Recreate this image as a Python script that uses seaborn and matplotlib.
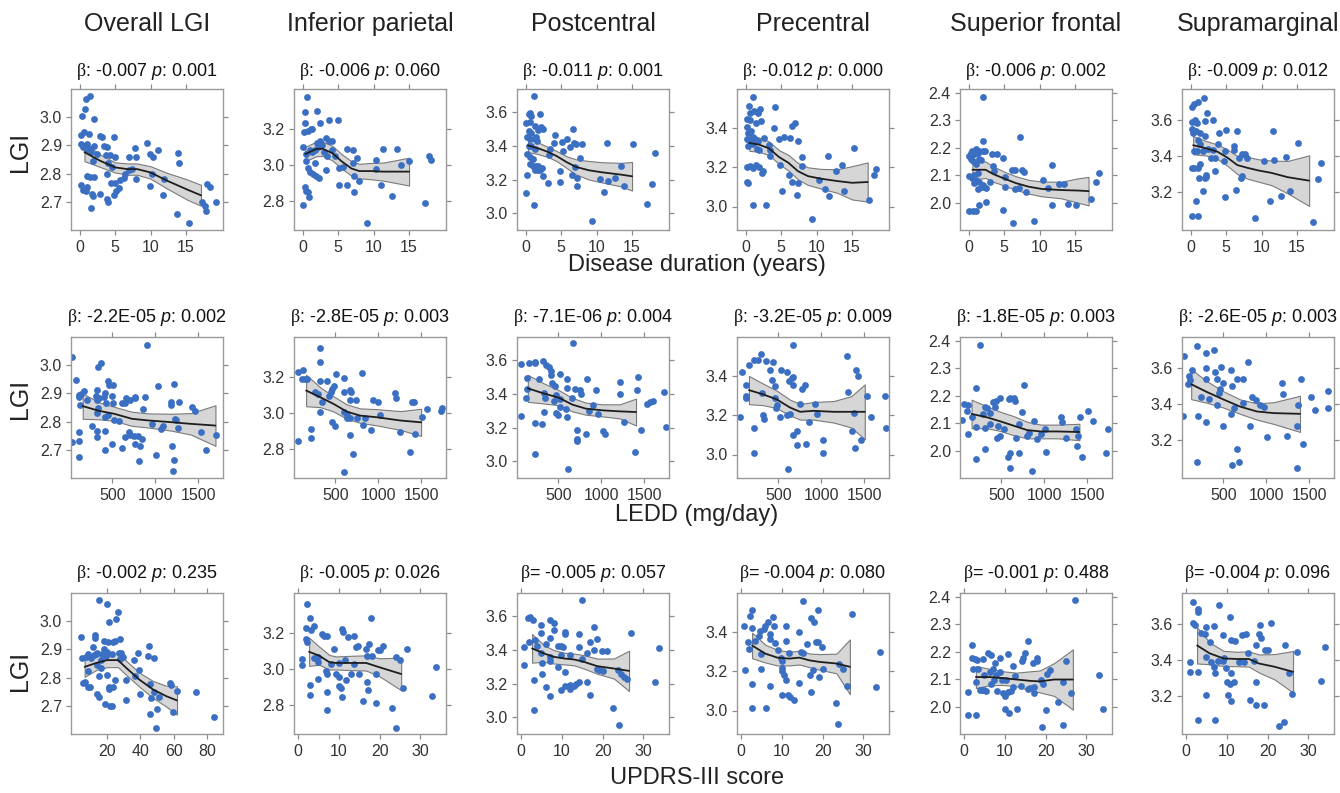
import matplotlib
matplotlib.use("Agg")
import matplotlib.pyplot as plt
import seaborn as sns
import numpy as np
import pandas as pd

# ---- text ----
region_names = ["Overall LGI", "Inferior parietal", "Postcentral", "Precentral",
                "Superior frontal", "Supramarginal"]
row_xlabels = ["Disease duration (years)", "LEDD (mg/day)", "UPDRS-III score"]

betas = [["-0.007", "-0.006", "-0.011", "-0.012", "-0.006", "-0.009"],
         ["-2.2E-05", "-2.8E-05", "-7.1E-06", "-3.2E-05", "-1.8E-05", "-2.6E-05"],
         ["-0.002", "-0.005", "-0.005", "-0.004", "-0.001", "-0.004"]]
pvals = [["0.001", "0.060", "0.001", "0.000", "0.002", "0.012"],
         ["0.002", "0.003", "0.004", "0.009", "0.003", "0.003"],
         ["0.235", "0.026", "0.057", "0.080", "0.488", "0.096"]]
beta_sep = [[":"] * 6, [":"] * 6, [":", ":", "=", "=", "=", "="]]

# ---- row 1: disease duration ----
r1c1_pts = [(0.86,3.063),(1.5,3.075),(0.8,3.03),(0.4,3.005),(2.05,2.995),(0.24,2.936),(0.57,2.948),
            (1.3,2.94),(0.24,2.906),(0.5,2.894),(0.86,2.896),(1.05,2.886),(1.5,2.888),(2.05,2.898),
            (2.86,2.934),(3.2,2.93),(3.43,2.898),(3.9,2.896),(4.86,2.93),(3.7,2.867),(4.3,2.867),
            (5.0,2.86),(4.05,2.837),(4.6,2.822),(3.9,2.8),(1.9,2.846),(1.43,2.788),(2.0,2.788),
            (1.1,2.792),(0.14,2.76),(0.5,2.742),(0.86,2.737),(1.1,2.752),(1.86,2.722),(1.76,2.729),
            (1.67,2.677),(2.86,2.728),(3.8,2.71),(4.05,2.70),(4.86,2.725),(5.1,2.737),(5.5,2.748),
            (4.5,2.767),(5.0,2.767),(5.7,2.777),(6.3,2.786),(6.4,2.8),(6.9,2.86),(7.9,2.86),
            (7.86,2.89),(7.95,2.782),(6.9,2.812),(7.4,2.816),(9.5,2.91),(9.86,2.87),(10.3,2.858),
            (9.9,2.755),(10.2,2.80),(11.0,2.882),(11.76,2.723),(11.9,2.78),(13.8,2.872),(14.0,2.837),
            (13.67,2.658),(15.4,2.625),(17.2,2.70),(17.95,2.764),(18.3,2.752),(17.6,2.684),
            (17.8,2.667),(19.2,2.698),(1.05,2.906),(1.67,2.876),(2.4,2.87)]
r1c1_fit = [(0.7,2.876,0.032),(2.86,2.846,0.022),(5,2.822,0.018),(6.7,2.816,0.02),(8.1,2.816,0.02),
            (10,2.804,0.022),(12.4,2.774,0.028),(15.2,2.743,0.036),(17.1,2.723,0.037)]

r1c2_pts = [(0.6,3.374),(2.1,3.30),(0.4,3.29),(2.4,3.23),(3.7,3.25),(5.0,3.25),(0.3,3.23),(1.2,3.20),
            (0.2,3.18),(0.8,3.19),(1.4,3.20),(2.1,3.12),(2.4,3.13),(2.7,3.11),(3.3,3.15),(3.7,3.13),
            (4.2,3.13),(0.1,3.10),(0.45,3.06),(1.0,3.08),(1.4,3.07),(1.8,3.08),(2.2,3.10),(3.0,3.07),
            (3.4,3.05),(4.2,3.08),(4.6,3.05),(6.2,3.09),(7.1,3.08),(7.6,3.04),(7.1,3.01),(0.5,3.02),
            (0.8,2.985),(1.7,3.01),(3.35,2.97),(5.2,2.985),(5.7,2.987),(1.0,2.96),(1.45,2.95),
            (1.9,2.94),(2.35,2.925),(5.1,2.89),(6.2,2.89),(7.3,2.94),(8.0,2.91),(7.3,2.85),(0.3,2.88),
            (0.55,2.855),(0.9,2.82),(0.77,2.85),(0.1,2.78),(9.1,2.68),(10.3,3.03),(10.4,2.98),
            (11.4,3.09),(11.0,2.89),(13.3,3.09),(12.6,2.83),(13.8,3.00),(15.0,3.02),(17.2,2.79),
            (17.8,3.05),(18.1,3.03)]
r1c2_fit = [(0.4,3.06,0.04),(1.9,3.088,0.04),(2.8,3.09,0.04),(4.2,3.065,0.04),(5.5,3.02,0.04),
            (6.9,2.98,0.04),(8.0,2.966,0.04),(9.6,2.966,0.045),(11.4,2.963,0.05),(15.0,2.963,0.077)]

r1c3_pts = [(1.2,3.696),(0.45,3.59),(0.7,3.596),(0.1,3.536),(0.6,3.544),(0.8,3.58),(1.3,3.52),(2.1,3.59),
            (2.2,3.516),(2.4,3.50),(1.7,3.494),(0.45,3.49),(0.8,3.48),(0.27,3.454),(0.6,3.444),
            (1.3,3.444),(1.5,3.454),(1.6,3.43),(0.45,3.40),(0.8,3.40),(1.3,3.384),(0.2,3.35),
            (0.6,3.334),(1.0,3.32),(0.7,3.296),(1.0,3.284),(1.5,3.28),(1.8,3.284),(2.25,3.27),
            (2.1,3.256),(1.7,3.256),(1.3,3.26),(0.2,3.228),(2.4,3.22),(3.1,3.18),(0.1,3.12),(1.2,3.046),
            (3.4,3.38),(3.3,3.344),(4.2,3.464),(4.05,3.42),(5.1,3.424),(5.3,3.37),(4.8,3.25),(4.9,3.184),
            (5.9,3.444),(6.2,3.396),(6.7,3.50),(6.8,3.42),(7.1,3.41),(7.0,3.276),(6.6,3.23),(7.3,3.21),
            (7.2,3.164),(7.7,3.33),(8.0,3.41),(9.3,2.956),(10.5,3.204),(11.1,3.126),(11.6,3.19),
            (11.5,3.42),(12.6,3.21),(13.4,3.28),(13.8,3.164),(15.1,3.41),(17.1,3.056),(17.8,3.176),
            (18.2,3.356)]
r1c3_fit = [(0.36,3.404,0.04),(1.7,3.388,0.035),(3.1,3.366,0.03),(4.4,3.34,0.03),(5.8,3.304,0.035),
            (7.1,3.276,0.045),(8.9,3.256,0.055),(10.7,3.244,0.06),(13.4,3.23,0.07),(15.0,3.22,0.085)]

r1c4_pts = [(1.1,3.56),(0.55,3.513),(0.64,3.48),(0.23,3.446),(0.64,3.44),(1.24,3.49),(1.7,3.476),
            (2.0,3.496),(1.47,3.425),(2.15,3.437),(0.23,3.405),(0.4,3.375),(0.78,3.388),(0.23,3.344),
            (0.55,3.34),(1.0,3.354),(1.4,3.344),(1.8,3.337),(0.32,3.307),(1.1,3.32),(1.55,3.294),
            (1.9,3.29),(2.6,3.35),(3.3,3.316),(3.5,3.287),(3.45,3.256),(4.0,3.40),(4.1,3.51),(4.7,3.344),
            (5.4,3.354),(4.9,3.214),(6.3,3.35),(6.6,3.41),(7.0,3.425),(7.4,3.332),(0.23,3.20),
            (0.64,3.206),(1.1,3.197),(1.47,3.214),(1.9,3.20),(2.4,3.18),(2.3,3.172),(0.23,3.125),
            (0.3,3.118),(1.1,3.01),(2.9,3.01),(5.1,3.08),(6.1,3.16),(6.6,3.125),(7.4,3.118),(7.3,3.057),
            (7.9,3.253),(8.0,3.206),(9.3,2.935),(10.4,3.135),(11.2,3.09),(11.8,3.054),(11.65,3.26),
            (12.7,3.18),(13.6,3.21),(13.9,3.08),(15.3,3.30),(17.4,3.033),(18.1,3.16),(18.4,3.19)]
r1c4_fit = [(0.55,3.324,0.04),(1.9,3.316,0.036),(3.3,3.297,0.035),(4.7,3.253,0.035),(6.05,3.223,0.04),
            (7.4,3.18,0.042),(8.8,3.155,0.045),(10.6,3.142,0.05),(12.9,3.13,0.06),(15.0,3.121,0.085),
            (17.2,3.125,0.1)]

r1c5_pts = [(2.05,2.385),(2.05,2.226),(0.1,2.17),(0.3,2.183),(0.55,2.19),(0.77,2.176),(1.1,2.195),
            (1.45,2.19),(1.3,2.18),(2.1,2.19),(2.35,2.189),(0.3,2.158),(0.64,2.152),(1.0,2.14),
            (1.45,2.158),(1.7,2.154),(0.1,2.096),(0.45,2.09),(0.77,2.1),(1.1,2.083),(1.3,2.11),
            (0.77,2.07),(1.45,2.074),(1.3,2.048),(1.9,2.058),(2.5,2.052),(2.1,2.065),(2.4,2.002),
            (1.45,1.99),(0.1,1.968),(0.64,1.968),(1.1,1.968),(3.3,2.178),(4.05,2.178),(4.9,2.164),
            (3.4,2.133),(3.6,2.114),(3.05,2.077),(4.9,1.974),(5.1,2.092),(5.1,2.058),(6.2,1.925),
            (6.1,2.12),(6.6,2.12),(6.5,2.05),(7.1,2.055),(7.2,2.238),(7.5,2.12),(7.8,2.112),(8.05,2.04),
            (9.2,1.934),(10.5,2.083),(11.2,2.052),(11.7,2.139),(11.8,1.99),(12.7,2.067),(13.5,2.067),
            (13.95,1.996),(15.2,1.993),(17.2,2.015),(17.95,2.077),(18.3,2.108)]
r1c5_fit = [(0.55,2.12,0.035),(2.4,2.12,0.03),(3.5,2.104,0.028),(5.1,2.087,0.025),(6.7,2.071,0.025),
            (8.5,2.058,0.025),(10.3,2.05,0.027),(13.0,2.046,0.03),(15.5,2.044,0.045),(16.9,2.042,0.052)]

r1c6_pts = [(1.85,3.72),(1.06,3.70),(0.46,3.687),(0.14,3.669),(2.3,3.635),(0.6,3.598),(0.14,3.59),
            (0.74,3.59),(0.92,3.58),(3.1,3.60),(2.0,3.594),(0.14,3.548),(0.37,3.529),(0.83,3.539),
            (1.3,3.529),(2.0,3.51),(4.0,3.529),(5.0,3.542),(6.6,3.539),(1.06,3.486),(1.3,3.464),
            (0.46,3.427),(0.92,3.427),(1.75,3.427),(2.45,3.436),(3.1,3.43),(3.8,3.464),(4.9,3.427),
            (6.1,3.455),(6.1,3.43),(6.8,3.39),(7.3,3.41),(7.7,3.41),(8.0,3.39),(7.3,3.287),(7.05,3.28),
            (2.9,3.39),(3.5,3.39),(0.14,3.334),(0.46,3.334),(1.06,3.334),(1.4,3.353),(2.2,3.297),
            (2.2,3.282),(2.0,3.28),(3.4,3.315),(1.2,3.28),(4.75,3.371),(6.4,3.213),(1.75,3.207),
            (0.74,3.148),(0.14,3.07),(1.06,3.07),(4.9,3.17),(9.1,3.055),(10.3,3.371),(11.65,3.535),
            (11.8,3.38),(11.2,3.148),(12.8,3.176),(13.5,3.394),(13.96,3.207),(15.2,3.473),(17.3,3.032),
            (18.0,3.274),(18.3,3.358)]
r1c6_fit = [(0.37,3.459,0.05),(2.2,3.442,0.04),(3.8,3.423,0.04),(5.2,3.39,0.045),(6.6,3.349,0.05),
            (8.0,3.334,0.06),(9.6,3.319,0.062),(11.4,3.306,0.068),(13.7,3.282,0.09),(16.7,3.263,0.14)]

# ---- row 2: LEDD ----
r2c1_pts = [(30,3.03),(73,2.947),(30,2.728),(111,2.895),(118,2.886),(137,2.898),(126,2.858),(176,2.907),
            (202,2.877),(118,2.762),(118,2.732),(118,2.675),(263,2.786),(309,2.89),(317,2.913),
            (340,2.995),(367,3.007),(317,2.877),(332,2.85),(317,2.83),(317,2.768),(317,2.746),(347,2.883),
            (405,2.889),(416,2.903),(424,2.865),(416,2.816),(416,2.768),(416,2.698),(454,2.943),
            (462,2.931),(508,2.931),(492,2.891),(508,2.867),(519,2.804),(500,2.72),(454,2.822),
            (576,2.802),(615,2.865),(645,2.865),(660,2.883),(710,2.877),(760,2.883),(767,2.889),
            (615,2.707),(645,2.744),(698,2.762),(710,2.753),(748,2.75),(767,2.72),(805,2.75),(824,2.713),
            (813,2.659),(851,2.738),(863,2.846),(882,2.889),(901,3.073),(966,2.792),(1004,2.683),
            (1034,2.925),(1065,2.774),(1092,2.786),(1179,2.871),(1187,2.859),(1195,2.713),(1225,2.935),
            (1233,2.81),(1244,2.804),(1225,2.665),(1206,2.625),(1263,2.777),(1282,2.871),(1424,2.852),
            (1462,2.838),(1538,2.762),(1588,2.698),(1710,2.752)]
r2c1_fit = [(156,2.855,0.045),(347,2.838,0.03),(519,2.828,0.025),(729,2.81,0.025),(920,2.804,0.025),
            (1187,2.798,0.03),(1416,2.792,0.038),(1702,2.786,0.072)]

r2c2_pts = [(64,2.847),(64,3.225),(123,3.24),(111,3.188),(150,3.185),(177,3.185),(216,2.911),(216,2.86),
            (325,3.358),(317,3.28),(317,3.179),(267,3.114),(305,3.105),(325,3.007),(345,3.059),
            (410,3.179),(422,3.092),(449,3.118),(461,3.133),(480,3.148),(461,2.952),(500,2.93),
            (512,3.216),(605,3.192),(605,3.118),(597,3.007),(636,2.989),(667,3.129),(683,3.118),
            (675,3.074),(675,2.97),(675,2.878),(605,2.672),(706,2.773),(636,2.97),(745,3.074),(753,2.97),
            (811,3.221),(823,2.934),(850,2.97),(916,2.908),(940,3.074),(994,3.059),(1017,2.989),
            (1200,3.111),(1212,3.081),(1251,2.897),(1375,2.786),(1395,3.059),(1414,3.059),(1434,2.884),
            (1512,2.976),(1570,3.022),(1726,3.013),(1745,3.026)]
r2c2_fit = [(161,3.124,0.087),(325,3.087,0.055),(480,3.05,0.042),(636,3.007,0.04),(792,2.985,0.04),
            (986,2.976,0.045),(1259,2.958,0.052),(1500,2.948,0.075)]

r2c3_pts = [(67,3.58),(67,3.269),(161,3.586),(134,3.495),(134,3.43),(122,3.378),(224,3.586),(232,3.592),
            (276,3.491),(319,3.596),(358,3.576),(390,3.56),(421,3.535),(421,3.511),(429,3.465),
            (224,3.228),(232,3.044),(311,3.222),(335,3.404),(343,3.374),(335,3.293),(461,3.45),
            (469,3.394),(476,3.289),(500,3.277),(516,3.37),(516,3.519),(449,3.358),(516,3.323),
            (587,3.313),(606,3.491),(606,3.438),(606,3.263),(618,2.954),(673,3.707),(665,3.378),
            (697,3.43),(752,3.424),(764,3.398),(713,3.131),(724,3.121),(724,3.188),(823,3.162),
            (831,3.491),(862,3.297),(902,3.333),(941,3.424),(961,3.283),(1020,3.182),(1039,3.162),
            (1217,3.471),(1224,3.398),(1264,3.236),(1394,3.055),(1413,3.424),(1433,3.501),(1461,3.188),
            (1539,3.343),(1563,3.35),(1598,3.358),(1736,3.41),(1760,3.202)]
r2c3_fit = [(146,3.434,0.08),(331,3.404,0.06),(508,3.378,0.045),(665,3.337,0.04),(823,3.313,0.036),
            (1020,3.303,0.036),(1217,3.297,0.042),(1406,3.293,0.08)]

r2c4_pts = [(57,3.189),(76,3.42),(120,3.353),(120,3.299),(127,3.29),(159,3.459),(214,3.481),(265,3.484),
            (304,3.515),(214,3.133),(214,3.008),(316,3.312),(324,3.203),(331,3.18),(355,3.476),
            (410,3.43),(422,3.38),(441,3.471),(461,3.349),(461,3.289),(473,3.24),(480,3.251),(527,3.43),
            (520,3.189),(606,3.201),(606,3.42),(629,3.375),(657,3.392),(676,3.397),(669,3.559),
            (676,3.353),(637,3.206),(676,3.098),(716,3.121),(716,3.049),(755,3.256),(775,3.332),
            (814,3.353),(618,2.924),(853,3.164),(825,3.054),(931,3.256),(951,3.206),(1022,3.076),
            (1022,3.008),(1296,3.505),(1312,3.319),(1363,3.121),(1382,3.214),(1390,3.032),(1402,3.43),
            (1429,3.40),(1461,3.076),(1531,3.299),(1586,3.189),(1743,3.299),(1755,3.133)]
r2c4_fit = [(159,3.329,0.072),(324,3.307,0.055),(480,3.282,0.045),(637,3.24,0.04),(755,3.218,0.04),
            (912,3.223,0.045),(1147,3.218,0.055),(1350,3.218,0.08),(1508,3.218,0.14)]

r2c5_pts = [(49,2.112),(65,2.171),(116,2.165),(96,2.146),(116,2.062),(155,2.124),(206,2.227),(206,2.087),
            (206,1.969),(253,2.384),(292,2.134),(312,2.161),(312,2.084),(312,2.006),(339,2.156),
            (371,2.136),(371,2.097),(410,2.177),(433,2.161),(441,2.183),(449,2.047),(457,2.091),
            (488,2.193),(480,2.053),(527,2.078),(586,2.19),(598,2.193),(575,1.975),(598,1.992),
            (606,1.936),(653,2.193),(665,2.18),(676,2.047),(704,1.992),(704,2.099),(743,2.14),(763,2.239),
            (802,2.053),(822,2.066),(861,1.926),(880,2.109),(920,2.041),(959,2.062),(1008,2.078),
            (1018,1.995),(1194,2.122),(1202,2.103),(1253,2.047),(1370,2.078),(1382,2.016),(1390,2.053),
            (1422,2.122),(1437,1.975),(1516,2.144),(1567,2.107),(1723,1.992),(1743,2.078)]
r2c5_fit = [(155,2.134,0.052),(331,2.122,0.04),(488,2.107,0.035),(645,2.091,0.035),(802,2.075,0.03),
            (959,2.07,0.025),(1155,2.07,0.025),(1410,2.068,0.03)]

r2c6_pts = [(29,3.335),(49,3.667),(100,3.553),(108,3.531),(88,3.509),(139,3.589),(194,3.722),(194,3.08),
            (206,3.335),(245,3.436),(296,3.68),(296,3.60),(296,3.54),(296,3.298),(335,3.425),(390,3.698),
            (402,3.576),(422,3.395),(429,3.535),(461,3.48),(453,3.462),(469,3.604),(500,3.516),
            (500,3.28),(586,3.585),(598,3.498),(586,3.345),(598,3.062),(625,3.376),(657,3.54),
            (665,3.153),(688,3.08),(727,3.54),(727,3.404),(794,3.631),(814,3.28),(833,3.44),(884,3.422),
            (931,3.395),(978,3.385),(1010,3.218),(1186,3.516),(1198,3.455),(1237,3.222),(1363,3.28),
            (1371,3.395),(1363,3.044),(1410,3.54),(1433,3.176),(1520,3.436),(1567,3.364),(1716,3.473),
            (1724,3.376)]
r2c6_fit = [(127,3.509,0.083),(304,3.467,0.06),(500,3.425,0.045),(696,3.385,0.04),(892,3.358,0.045),
            (1088,3.349,0.06),(1394,3.345,0.1)]

# ---- row 3: UPDRS-III ----
r3c1_pts = [(4.2,2.943),(5.2,2.871),(5.6,2.78),(7,2.786),(7.2,2.874),(8.4,2.883),(8.4,2.822),(8.6,2.768),
            (10,2.768),(11.6,2.907),(12.6,2.94),(12.6,2.95),(13.2,2.883),(14,2.889),(14,2.846),
            (12,2.879),(10.6,2.871),(14,2.741),(15.2,2.732),(15.2,3.076),(15.2,2.804),(16.6,2.862),
            (16.6,2.834),(17.2,2.883),(18,2.901),(18,2.931),(18.6,2.707),(19.2,2.877),(20,2.891),
            (20,3.06),(20,2.81),(21.2,2.998),(20.6,2.925),(21,2.768),(21.6,2.698),(23,2.698),(23.2,2.883),
            (23.6,2.927),(23.6,2.768),(21.2,2.758),(24.6,2.931),(24.6,2.79),(25.2,3.007),(26.6,3.031),
            (27.2,2.889),(27.6,2.867),(28,2.937),(28.6,2.889),(29.6,2.874),(31.2,2.722),(31.6,2.792),
            (36,2.862),(36.6,2.804),(38.6,2.889),(39.2,2.826),(39.6,2.741),(44.6,2.877),(45.2,2.911),
            (45.6,2.671),(46.6,2.729),(46,2.778),(48,2.871),(48,2.75),(49.2,2.623),(50,2.689),
            (51.2,2.732),(58,2.782),(58.6,2.774),(59.6,2.677),(62,2.753),(73.2,2.75),(84,2.659)]
r3c1_fit = [(6.6,2.838,0.035),(13.6,2.852,0.025),(20,2.862,0.025),(26.6,2.862,0.025),(31.6,2.834,0.025),
            (39.6,2.792,0.025),(47.6,2.758,0.03),(55.6,2.734,0.037),(62,2.719,0.05)]

r3c2_pts = [(0.9,3.055),(0.9,3.022),(2.1,3.358),(1.9,3.229),(1.9,3.165),(2.1,3.15),(2.9,3.279),(3.1,3.217),
            (3.9,3.235),(2.9,2.912),(2.9,2.857),(3.9,3.059),(5.0,3.064),(5.0,3.04),(5.0,2.945),(5.8,3.193),
            (6.4,3.183),(7.2,3.18),(6.8,2.99),(7.0,2.972),(7.0,2.872),(7.0,2.774),(8.1,3.028),(8.9,3.11),
            (9.3,2.972),(10,3.033),(10,2.954),(10,2.908),(10.5,2.894),(10.9,3.22),(11.1,3.206),
            (10.9,2.844),(11.6,3.051),(11.8,2.941),(12.2,3.174),(13.0,2.972),(13.8,3.18),(13.8,3.028),
            (14.2,3.119),(14.7,3.128),(14.9,2.972),(15.9,2.82),(16.7,3.11),(16.9,3.073),(16.9,2.927),
            (17.1,2.881),(17.4,3.138),(17.9,3.284),(18.2,3.073),(19.0,2.972),(19.2,2.813),(19.5,3.106),
            (20.1,3.106),(20.9,3.128),(23.1,2.783),(24.1,3.064),(24.1,2.673),(24.9,3.051),(25.8,2.894),
            (26.7,3.11),(32.9,2.85),(33.8,3.009)]
r3c2_fit = [(2.7,3.095,0.078),(5.2,3.073,0.05),(7.7,3.037,0.04),(9.3,3.033,0.036),(13.4,3.033,0.04),
            (16.7,3.033,0.042),(20,3.009,0.05),(25.3,2.972,0.09)]

r3c3_pts = [(0.8,3.42),(0.8,3.314),(1.9,3.45),(1.6,3.59),(2.3,3.596),(3.0,3.58),(3.1,3.224),(3.1,3.044),
            (3.3,3.46),(3.9,3.424),(4.9,3.55),(4.9,3.50),(4.9,3.384),(5.2,3.324),(5.2,3.256),(6.0,3.436),
            (6.0,3.18),(7.0,3.58),(7.2,3.47),(7.2,3.36),(7.0,3.336),(7.0,3.124),(8.0,3.564),(8.0,3.52),
            (9.0,3.424),(9.0,3.30),(9.7,3.424),(9.8,3.37),(10.3,3.416),(9.8,3.164),(10.9,3.51),
            (10.9,3.496),(10.9,3.27),(10.7,3.184),(12.0,3.37),(12.0,3.17),(12.1,3.19),(12.95,3.184),
            (13.6,3.20),(14.2,3.416),(14.2,3.496),(14.2,3.21),(15.0,3.696),(15.0,3.344),(16.1,3.384),
            (16.1,3.21),(16.9,3.45),(16.9,3.13),(17.9,3.536),(17.9,3.40),(18.7,3.464),(18.7,3.29),
            (19.1,3.28),(19.9,3.396),(20.2,3.276),(21.0,3.396),(22.6,3.056),(23.8,3.28),(24.0,2.956),
            (24.6,3.256),(25.2,3.24),(25.9,3.23),(26.9,3.50),(32.8,3.21),(33.9,3.41)]
r3c3_fit = [(2.7,3.41,0.085),(5.6,3.38,0.05),(8.0,3.36,0.04),(10.5,3.35,0.035),(13.0,3.344,0.035),
            (15.4,3.33,0.04),(18.7,3.304,0.045),(22.8,3.29,0.06),(26.5,3.276,0.12)]

r3c4_pts = [(0.8,3.429),(1.0,3.206),(1.8,3.349),(2.0,3.316),(2.2,3.484),(2.8,3.513),(2.8,3.422),
            (2.8,3.135),(2.8,3.011),(3.5,3.354),(4.5,3.378),(4.7,3.405),(5.0,3.29),(5.0,3.214),(5.6,3.417),
            (5.8,3.429),(6.0,3.011),(6.6,3.451),(7.0,3.392),(7.0,3.366),(7.2,3.125),(7.8,3.479),(8.0,3.434),
            (8.3,3.344),(9.1,3.307),(9.7,3.27),(10.0,3.253),(10.1,3.219),(10.1,3.202),(10.1,3.079),
            (10.5,3.18),(11.1,3.434),(11.1,3.354),(11.1,3.158),(11.4,3.079),(11.8,3.294),(12.0,3.067),
            (13.0,3.054),(14.1,3.40),(14.1,3.142),(14.7,3.299),(15.1,3.56),(15.3,3.294),(16.1,3.338),
            (16.9,3.18),(17.2,3.473),(17.2,3.096),(17.8,3.451),(17.6,3.206),(18.3,3.349),(18.8,3.513),
            (18.8,3.349),(19.1,3.17),(19.9,3.324),(20.1,3.214),(23.2,3.037),(23.8,2.932),(24.1,3.24),
            (25.1,3.214),(25.9,3.125),(27.1,3.493),(33.2,3.118),(34.2,3.299)]
r3c4_fit = [(2.7,3.332,0.065),(6.0,3.29,0.045),(8.9,3.27,0.04),(11.8,3.265,0.035),(14.3,3.27,0.035),
            (16.8,3.256,0.035),(19.3,3.248,0.04),(23.4,3.24,0.05),(26.7,3.223,0.14)]

r3c5_pts = [(1.0,2.055),(1.0,1.968),(1.9,2.226),(1.9,2.179),(2.1,2.137),(2.75,2.174),(2.9,2.089),
            (2.9,1.968),(3.1,2.17),(3.3,2.137),(3.9,2.062),(4.4,2.062),(4.75,2.174),(5.0,2.114),
            (5.0,2.062),(5.4,2.058),(5.8,2.195),(6.25,2.127),(6.7,2.189),(6.7,2.083),(7.1,2.139),
            (7.25,2.099),(7.5,2.158),(7.75,2.117),(8.1,2.058),(8.75,2.127),(8.9,2.176),(9.2,2.099),
            (9.6,2.05),(10.0,2.04),(10.0,1.993),(10.25,2.099),(10.8,2.191),(10.8,2.052),(11.1,1.975),
            (11.4,2.058),(11.9,2.149),(12.1,2.071),(12.5,2.112),(12.9,1.99),(13.9,2.077),(14.2,2.166),
            (14.4,2.179),(15.0,2.195),(15.8,2.241),(15.6,2.065),(16.25,2.067),(16.9,2.161),(17.1,2.071),
            (17.1,2.05),(17.9,2.179),(17.9,2.166),(18.9,2.099),(19.2,1.925),(19.4,2.083),(20.0,1.988),
            (20.25,2.12),(21.1,2.133),(23.1,2.017),(24.2,1.934),(24.2,2.089),(25.0,2.166),(26.25,2.05),
            (27.1,2.388),(33.1,2.117),(34.2,1.993)]
r3c5_fit = [(2.9,2.108,0.04),(6.25,2.108,0.03),(9.6,2.104,0.025),(12.9,2.099,0.025),(16.25,2.094,0.035),
            (18.6,2.092,0.04),(22.1,2.099,0.06),(26.7,2.099,0.11)]

r3c6_pts = [(1.0,3.39),(1.0,3.334),(1.8,3.72),(1.8,3.604),(2.1,3.594),(2.9,3.684),(2.9,3.665),(2.9,3.334),
            (2.9,3.07),(3.75,3.548),(4.6,3.542),(4.8,3.58),(5.0,3.418),(5.0,3.207),(5.8,3.498),(6.0,3.39),
            (6.8,3.59),(6.8,3.362),(7.1,3.33),(7.1,3.07),(7.9,3.394),(8.2,3.702),(9.0,3.539),(9.0,3.394),
            (9.3,3.408),(9.8,3.356),(10.0,3.278),(10.2,3.207),(10.7,3.269),(10.8,3.635),(11.0,3.51),
            (11.0,3.33),(11.0,3.17),(11.8,3.278),(12.1,3.505),(12.9,3.386),(13.75,3.535),(14.2,3.39),
            (14.6,3.542),(15.2,3.436),(15.7,3.176),(16.7,3.394),(17.1,3.152),(17.1,3.278),(17.1,3.48),
            (17.9,3.542),(18.2,3.594),(18.5,3.52),(19.0,3.148),(19.3,3.455),(20.0,3.455),(20.8,3.604),
            (22.9,3.033),(24.0,3.055),(24.2,3.48),(25.2,3.325),(26.0,3.213),(27.1,3.442),(33.2,3.282),
            (34.2,3.473)]
r3c6_fit = [(2.7,3.48,0.1),(5.8,3.436,0.06),(9.2,3.408,0.042),(12.5,3.405,0.04),(15.4,3.405,0.042),
            (17.9,3.38,0.05),(21.7,3.362,0.07),(26.25,3.334,0.115)]

# ---- axes scales ----
y_limits = [(2.6, 3.1), (2.64, 3.42), (2.90, 3.74), (2.88, 3.60), (1.90, 2.415), (2.99, 3.77)]
y_ticks = [[2.7, 2.8, 2.9, 3.0], [2.8, 3.0, 3.2], [3.0, 3.2, 3.4, 3.6], [3.0, 3.2, 3.4],
           [2.0, 2.1, 2.2, 2.3, 2.4], [3.2, 3.4, 3.6]]
x_limits_row = [(-1.2, 20.2), (20, 1790), (-1.0, 36.3)]
x_ticks_row = [[0, 5, 10, 15], [500, 1000, 1500], [0, 10, 20, 30]]
x_limits_updrs_overall = (-1.6, 89.6)
x_ticks_updrs_overall = [20, 40, 60, 80]

panels = [[r1c1_pts, r1c2_pts, r1c3_pts, r1c4_pts, r1c5_pts, r1c6_pts],
          [r2c1_pts, r2c2_pts, r2c3_pts, r2c4_pts, r2c5_pts, r2c6_pts],
          [r3c1_pts, r3c2_pts, r3c3_pts, r3c4_pts, r3c5_pts, r3c6_pts]]
fits = [[r1c1_fit, r1c2_fit, r1c3_fit, r1c4_fit, r1c5_fit, r1c6_fit],
        [r2c1_fit, r2c2_fit, r2c3_fit, r2c4_fit, r2c5_fit, r2c6_fit],
        [r3c1_fit, r3c2_fit, r3c3_fit, r3c4_fit, r3c5_fit, r3c6_fit]]

sns.set_style("white")
plt.rcParams['font.family'] = ['Liberation Sans', 'DejaVu Sans']
plt.rcParams['mathtext.fontset'] = 'custom'
plt.rcParams['mathtext.it'] = 'Liberation Sans:italic'
plt.rcParams['mathtext.rm'] = 'Liberation Serif'

W, H = 1340, 793
fig = plt.figure(figsize=(W / 100, H / 100), dpi=100)

col_left = [71, 294, 517, 737, 960, 1182]
row_top = [89, 337, 593]
aw, ah = 152, 141
title_y = [72, 318, 573]
lgi_y = [152, 399, 671]
xlabel_y = [265, 515, 778]

dot_color = "#3b6fc2"
spine_color = "#9a9a9a"

for r in range(3):
    for c in range(6):
        l, t = col_left[c], row_top[r]
        ax = fig.add_axes([l / W, 1 - (t + ah) / H, aw / W, ah / H])
        pts = pd.DataFrame(panels[r][c], columns=["x", "y"])
        fit = pd.DataFrame(fits[r][c], columns=["x", "y", "hw"])

        ax.fill_between(fit["x"], fit["y"] - fit["hw"], fit["y"] + fit["hw"],
                        facecolor="#d6d6d6", edgecolor="#7a7a7a", linewidth=0.8, zorder=1)
        sns.scatterplot(data=pts, x="x", y="y", ax=ax, color=dot_color, s=24,
                        linewidth=0, zorder=2, legend=False)
        sns.lineplot(data=fit, x="x", y="y", ax=ax, color="#1e1e1e", linewidth=1.3,
                     sort=False, estimator=None, zorder=3)

        if r == 2 and c == 0:
            ax.set_xlim(*x_limits_updrs_overall)
            ax.set_xticks(x_ticks_updrs_overall)
        else:
            ax.set_xlim(*x_limits_row[r])
            ax.set_xticks(x_ticks_row[r])
        ax.set_ylim(*y_limits[c])
        ax.set_yticks(y_ticks[c])
        ax.set_yticklabels([f"{v:.1f}" for v in y_ticks[c]])
        ax.set_xlabel("")
        ax.set_ylabel("")

        for s in ax.spines.values():
            s.set_color(spine_color)
            s.set_linewidth(1.0)
        ax.tick_params(direction="out", length=3.5, width=0.9, color="#8a8a8a",
                       bottom=True, left=True, top=True, right=True,
                       labelbottom=True, labelleft=True, labeltop=False, labelright=False,
                       labelsize=11.5, labelcolor="#333333", pad=3)
        ax.tick_params(axis="x", pad=4)

        cx = (l + aw / 2) / W
        fig.text(cx, 1 - title_y[r] / H,
                 r"$\mathrm{β}$" + beta_sep[r][c] + " " + betas[r][c] + r" $\it{p}$: " + pvals[r][c],
                 ha="center", va="center", fontsize=13, color="#111111")
        if r == 0:
            fig.text(cx, 1 - 24 / H, region_names[c], ha="center", va="center",
                     fontsize=18, color="#222222")
    fig.text(20 / W, 1 - lgi_y[r] / H, "LGI", rotation=90, ha="center", va="center",
             fontsize=18, color="#222222")
    fig.text(697 / W, 1 - xlabel_y[r] / H, row_xlabels[r], ha="center", va="center",
             fontsize=17, color="#222222")

fig.savefig("out.png", dpi=100)
